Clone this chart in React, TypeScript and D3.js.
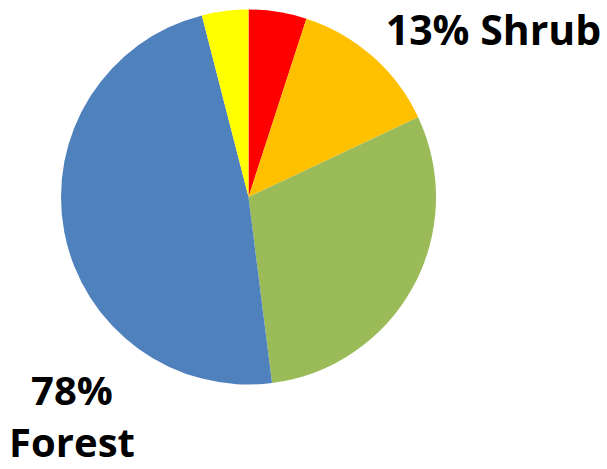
import React from "react";
import * as d3 from "d3";

const categories = ["Other A", "Shrub", "Forest B", "Forest A", "Other B"];
const values = [5, 13, 30, 48, 4];
const colors = ["#FF0000", "#FFC000", "#9BBB59", "#4F81BD", "#FFFF00"];
const labelShrub = ["13% Shrub"];
const labelForest = ["78%", "Forest"];

const W = 607;
const H = 469;
const cx = 248.5;
const cy = 197;
const R = 187.5;

export default function App() {
  const pie = d3.pie<number>().sort(null).value((d) => d);
  const arcs = pie(values);
  const arc = d3.arc<d3.PieArcDatum<number>>().innerRadius(0).outerRadius(R);
  const font = "'Open Sans', 'DejaVu Sans', sans-serif";
  return (
    <svg
      width={W}
      height={H}
      style={{ position: "absolute", left: 0, top: 0, display: "block", background: "#fff" }}
    >
      <g transform={`translate(${cx},${cy})`}>
        {arcs.map((a, i) => (
          <path key={categories[i]} d={arc(a) || ""} fill={colors[i]} />
        ))}
      </g>
      <text x={493.5} y={45} textAnchor="middle" fontFamily={font} fontWeight={700} fontSize={41} fill="#000">
        {labelShrub[0]}
      </text>
      <text x={72} y={405} textAnchor="middle" fontFamily={font} fontWeight={700} fontSize={40} fill="#000">
        {labelForest[0]}
      </text>
      <text x={72} y={457} textAnchor="middle" fontFamily={font} fontWeight={700} fontSize={40} fill="#000">
        {labelForest[1]}
      </text>
    </svg>
  );
}
